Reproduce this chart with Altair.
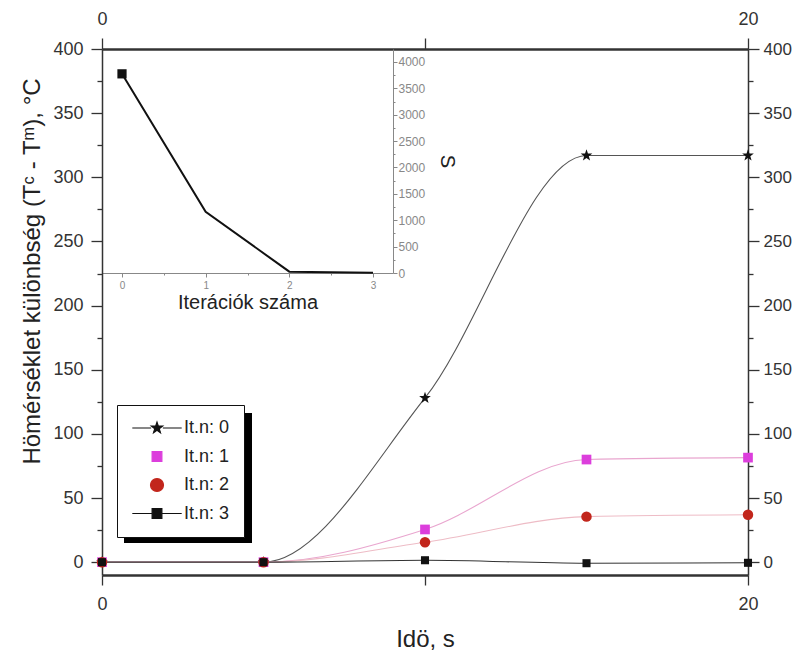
import altair as alt
import pandas as pd

# ---------------- data ----------------
time_s = [0, 5, 10, 15, 20]
series_names = ["It.n: 0", "It.n: 1", "It.n: 2", "It.n: 3"]
temp_it0 = [0, 0, 128, 317, 317]
temp_it1 = [0, 0, 25.5, 80, 81.5]
temp_it2 = [0, 0, 15.5, 35.5, 37]
temp_it3 = [0, 0, 1.5, -0.8, -0.5]

iterations = [0, 1, 2, 3]
s_values = [3775, 1160, 25, 5]

y_main_ticks = list(range(0, 401, 25))
x_main_ticks = [0, 10, 20]
x_inset_ticks = [0, 0.5, 1, 1.5, 2, 2.5, 3]
y_inset_ticks = list(range(0, 4001, 250))

# ---------------- styling ----------------
FONT = "Liberation Sans"
line_colors = ["#555555", "#e9a6cf", "#eebcc6", "#333333"]
fill_colors = ["#111111", "#dc3edc", "#c2261c", "#111111"]

STAR = ("M0,-1L0.235,-0.324L0.951,-0.309L0.380,0.124L0.588,0.809L0,0.4"
        "L-0.588,0.809L-0.380,0.124L-0.951,-0.309L-0.235,-0.324Z")
SQUARE = "M-0.85,-0.85L0.85,-0.85L0.85,0.85L-0.85,0.85Z"
point_shapes = [STAR, SQUARE, "circle", SQUARE]
point_sizes = [150, 90, 110, 90]

LSTAR = ("M-3.8,0L-0.9,0M0.9,0L3.8,0"
         "M0,-0.9L0.21,-0.29L0.86,-0.28L0.34,0.11L0.53,0.73L0,0.36"
         "L-0.53,0.73L-0.34,0.11L-0.86,-0.28L-0.21,-0.29Z")
LSQ = "M-0.75,-0.75L0.75,-0.75L0.75,0.75L-0.75,0.75Z"
LSQLINE = "M-3.8,0L-0.75,0M0.75,0L3.8,0M-0.75,-0.75L0.75,-0.75L0.75,0.75L-0.75,0.75Z"
legend_shapes = [LSTAR, LSQ, "circle", LSQLINE]
legend_strokes = ["#111111", "#dc3edc", "#c2261c", "#111111"]

rows = []
for name, vals in zip(series_names, [temp_it0, temp_it1, temp_it2, temp_it3]):
    for t, v in zip(time_s, vals):
        rows.append({"series": name, "t": t, "v": v})
main_df = pd.DataFrame(rows)
inset_df = pd.DataFrame({"it": iterations, "S": s_values})
legend_df = pd.DataFrame({"series": series_names})
one_df = pd.DataFrame({"a": [0]})

W, H = 646, 526
X_DOM = [0, 20]
Y_DOM = [-10, 400]
INSET_X_DOM = [-0.239, 3.239]
INSET_X_RANGE = [0, 291]
INSET_Y_DOM = [0, 4246]
INSET_Y_RANGE = [224, 0]

minor_y = {"condition": {"test": "datum.value % 50 != 0", "value": 5}, "value": 11}
minor_ix = {"condition": {"test": "datum.value % 1 != 0", "value": 2}, "value": 4}
minor_iy = {"condition": {"test": "datum.value % 500 != 0", "value": 2}, "value": 4}

# shadow of the legend box
shadow = alt.Chart(one_df).mark_rect(color="#000000").encode(
    x=alt.value(22), x2=alt.value(150), y=alt.value(364), y2=alt.value(494)
)

lines = alt.Chart(main_df).mark_line(interpolate="monotone", strokeWidth=1.1).encode(
    x=alt.X("t:Q", scale=alt.Scale(domain=X_DOM, nice=False, zero=False),
            axis=alt.Axis(orient="bottom", values=x_main_ticks,
                          labelExpr="datum.value == 10 ? '' : datum.label",
                          labelFlush=False,
                          title="Idö, s", titleFontSize=24, titlePadding=14,
                          labelFontSize=18, tickSize=10, labelPadding=10,
                          domainWidth=2.5)),
    y=alt.Y("v:Q", scale=alt.Scale(domain=Y_DOM, nice=False, zero=False),
            axis=alt.Axis(orient="left", values=y_main_ticks,
                          labelExpr="datum.value % 50 == 0 ? datum.label : ''",
                          tickSize=minor_y, labelPadding=8, labelFontSize=18,
                          title="Hömérséklet különbség (Tᶜ - Tᵐ), °C",
                          titleFontSize=24, titlePadding=8, titleY=222,
                          domainWidth=1.5)),
    color=alt.Color("series:N", scale=alt.Scale(domain=series_names, range=line_colors), legend=None),
)

points = alt.Chart(main_df).mark_point(filled=True, opacity=1).encode(
    x=alt.X("t:Q", scale=alt.Scale(domain=X_DOM, nice=False, zero=False),
            axis=alt.Axis(orient="top", values=x_main_ticks,
                          labelExpr="datum.value == 10 ? '' : datum.label",
                          labelFlush=False,
                          title=None, labelFontSize=18, tickSize=11, labelPadding=10,
                          domainWidth=2.5)),
    y=alt.Y("v:Q", scale=alt.Scale(domain=Y_DOM, nice=False, zero=False),
            axis=alt.Axis(orient="right", values=y_main_ticks,
                          labelExpr="datum.value % 50 == 0 ? datum.label : ''",
                          tickSize=minor_y, labelPadding=4, labelFontSize=17,
                          title=None, domainWidth=1.5)),
    color=alt.Color("series:N", scale=alt.Scale(domain=series_names, range=fill_colors), legend=None),
    shape=alt.Shape("series:N", scale=alt.Scale(domain=series_names, range=point_shapes), legend=None),
    size=alt.Size("series:O", scale=alt.Scale(domain=series_names, range=point_sizes), legend=None),
)

inset_line = alt.Chart(inset_df).mark_line(color="#111111", strokeWidth=2).encode(
    x=alt.X("it:Q", scale=alt.Scale(domain=INSET_X_DOM, range=INSET_X_RANGE, nice=False, zero=False),
            axis=alt.Axis(orient="bottom", offset=-(H - INSET_Y_RANGE[0]), values=x_inset_ticks,
                          labelExpr="datum.value % 1 == 0 ? format(datum.value, 'd') : ''",
                          labelFlush=False,
                          labelFontSize=10, labelColor="#888888", tickSize=minor_ix, labelPadding=3,
                          tickColor="#888888", tickWidth=1, domainColor="#888888", domainWidth=1,
                          title="Iterációk száma", titleFontSize=20, titlePadding=2)),
    y=alt.Y("S:Q", scale=alt.Scale(domain=INSET_Y_DOM, range=INSET_Y_RANGE, nice=False, zero=False),
            axis=alt.Axis(orient="right", offset=-(W - INSET_X_RANGE[1]), values=y_inset_ticks,
                          labelExpr="datum.value % 500 == 0 ? format(datum.value, 'd') : ''",
                          labelFlush=False,
                          labelFontSize=12, labelColor="#888888", tickSize=minor_iy, labelPadding=1,
                          tickColor="#888888", tickWidth=1, domainColor="#888888", domainWidth=1,
                          title="S", titleFontSize=20, titlePadding=12)),
)

inset_point = alt.Chart(inset_df).transform_filter("datum.it == 0").mark_point(
    shape="square", filled=True, color="#111111", size=85, opacity=1
).encode(
    x=alt.X("it:Q", scale=alt.Scale(domain=INSET_X_DOM, range=INSET_X_RANGE, nice=False, zero=False), axis=None),
    y=alt.Y("S:Q", scale=alt.Scale(domain=INSET_Y_DOM, range=INSET_Y_RANGE, nice=False, zero=False), axis=None),
)

leg = alt.Legend(title=None, orient="none", legendX=15, legendY=356,
                 fillColor="white", strokeColor="#111111", padding=14,
                 labelFont=FONT, labelFontSize=18, labelColor="#222222",
                 symbolSize=169, symbolStrokeWidth=1.2, symbolOpacity=1,
                 symbolOffset=17, labelOffset=18, rowPadding=10.5)

legend_layer = alt.Chart(legend_df).mark_point(filled=False, opacity=0).encode(
    x=alt.value(-50), y=alt.value(-50),
    shape=alt.Shape("series:N", scale=alt.Scale(domain=series_names, range=legend_shapes), legend=leg),
    fill=alt.Fill("series:N", scale=alt.Scale(domain=series_names, range=fill_colors), legend=leg),
    stroke=alt.Stroke("series:N", scale=alt.Scale(domain=series_names, range=legend_strokes), legend=leg),
)

chart = alt.layer(shadow, lines, inset_line, inset_point, points, legend_layer).resolve_scale(
    x="independent", y="independent", color="independent", shape="independent",
    fill="independent", stroke="independent", size="independent"
).properties(
    width=W, height=H,
    background="white",
    autosize=alt.AutoSizeParams(type="none"),
    padding={"left": 94, "top": 41, "right": 45, "bottom": 75},
).configure_view(stroke=None).configure_axis(
    grid=False, labelFont=FONT, titleFont=FONT, titleFontWeight="normal",
    labelColor="#333333", titleColor="#222222", domainColor="#333333",
    tickColor="#333333", tickWidth=1.3
)

chart.save("out.html", embed_options={"renderer": "svg", "actions": False})
